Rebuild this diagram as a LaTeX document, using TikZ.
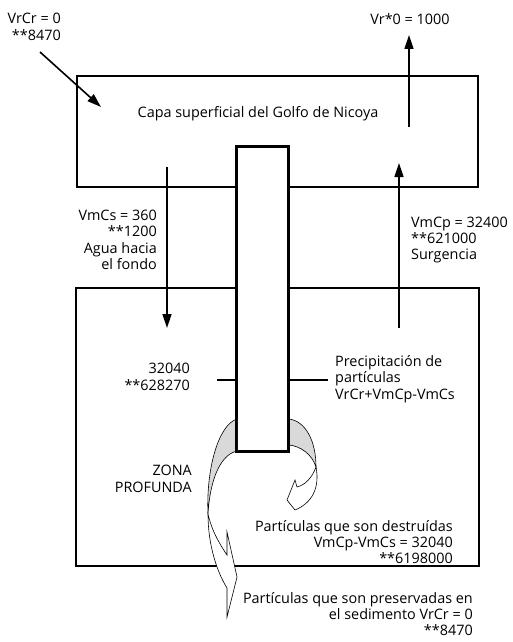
\documentclass[tikz,border=0pt]{standalone}
\usepackage{fontspec}
\setmainfont{Open Sans}
\usetikzlibrary{arrows.meta}
\tikzset{
  boxline/.style={draw=black, line width=1.6pt},
  flow/.style={line width=1.6pt, -{Triangle[length=14pt,width=9pt]}},
  tick/.style={line width=1.6pt},
  lbl/.style={inner sep=0pt, font=\fontsize{14.4}{16.4}\selectfont},
  ribbon/.style={draw=black, line width=0.6pt},
}
\begin{document}
\begin{tikzpicture}[x=1pt,y=-1pt]
\useasboundingbox (0,0) rectangle (512,642);
% boxes
\node[boxline, minimum width=401pt, minimum height=111pt, inner sep=0pt] (upper) at (277.5,131.5) {};
\node[boxline, minimum width=403pt, minimum height=278pt, inner sep=0pt] (lower) at (277.5,427) {};
% column
\node[boxline, fill=white, minimum width=51pt, minimum height=304pt, inner sep=0pt] (col) at (262.5,299) {};
% ribbons (left)
\coordinate (la) at (237,419);
\coordinate (lb) at (237,451);
\coordinate (lc) at (208,514);
\filldraw[ribbon, fill=gray!30] (la) .. controls (218,425) and (206,470) .. (lc)
   .. controls (210,480) and (220,455) .. (lb) -- cycle;
\filldraw[ribbon, fill=white] (lc) .. controls (212,532) and (221,546) .. (227,555)
   -- (227,532) -- (237,577) -- (227,617) -- (227,588)
   .. controls (217,572) and (208,545) .. (lc) -- cycle;
% ribbons (right)
\coordinate (ra) at (289,419);
\coordinate (rb) at (289,445);
\coordinate (rc) at (316,467);
\filldraw[ribbon, fill=gray!30] (ra) .. controls (305,421) and (316,440) .. (rc)
   .. controls (312,454) and (300,446) .. (rb) -- cycle;
\filldraw[ribbon, fill=white] (rc) .. controls (312,478) and (305,485) .. (297,487)
   -- (295,480) -- (287,500) -- (295,510)
   .. controls (312,503) and (320,488) .. (rc) -- cycle;
% redraw column border over ribbon edges
\draw[boxline] (col.north west) rectangle (col.south east);
% arrows
\coordinate (d1) at (40,52);
\coordinate (d2) at (101,107);
\draw[flow] (d1) -- (d2);
\coordinate (v1) at (409,127);
\coordinate (v2) at (409,35);
\draw[flow] (v1) -- (v2);
\coordinate (s1) at (399,328);
\coordinate (s2) at (399,163);
\draw[flow] (s1) -- (s2);
\coordinate (m1) at (167,167);
\coordinate (m2) at (167,328);
\draw[flow] (m1) -- (m2);
% ticks
\coordinate (t1) at (217,380);
\coordinate (t2) at (328,380);
\draw[tick] (t1) -- (t1 -| col.west);
\draw[tick] (t2 -| col.east) -- (t2);
% labels
\node[lbl, align=right, anchor=east] (tVrCr) at (61,27) {VrCr = 0\\**8470};
\node[lbl] (tVr) at (410,19) {Vr*0 = 1000};
\node[lbl] (tCapa) at (258,114) {Capa superficial del Golfo de Nicoya};
\node[lbl, align=right, anchor=east] (tVmCs) at (157,240) {VmCs = 360\\**1200\\Agua hacia\\el fondo};
\node[lbl, align=left, anchor=west] (tVmCp) at (411,240) {VmCp = 32400\\**621000\\Surgencia};
\node[lbl, align=right, anchor=east] (t32040) at (190,377) {32040\\**628270};
\node[lbl, align=left, anchor=west] (tPrec) at (335,379) {Precipitación de\\partículas\\VrCr+VmCp-VmCs};
\node[lbl, align=right, anchor=east] (tZona) at (192,479) {ZONA\\PROFUNDA};
\node[lbl, align=right, anchor=east] (tDest) at (453,542) {Partículas que son destruídas\\VmCp-VmCs = 32040\\**6198000};
\node[lbl, align=right, anchor=east] (tPres) at (473,614) {Partículas que son preservadas en\\el sedimento VrCr = 0\\**8470};
\end{tikzpicture}
\end{document}
